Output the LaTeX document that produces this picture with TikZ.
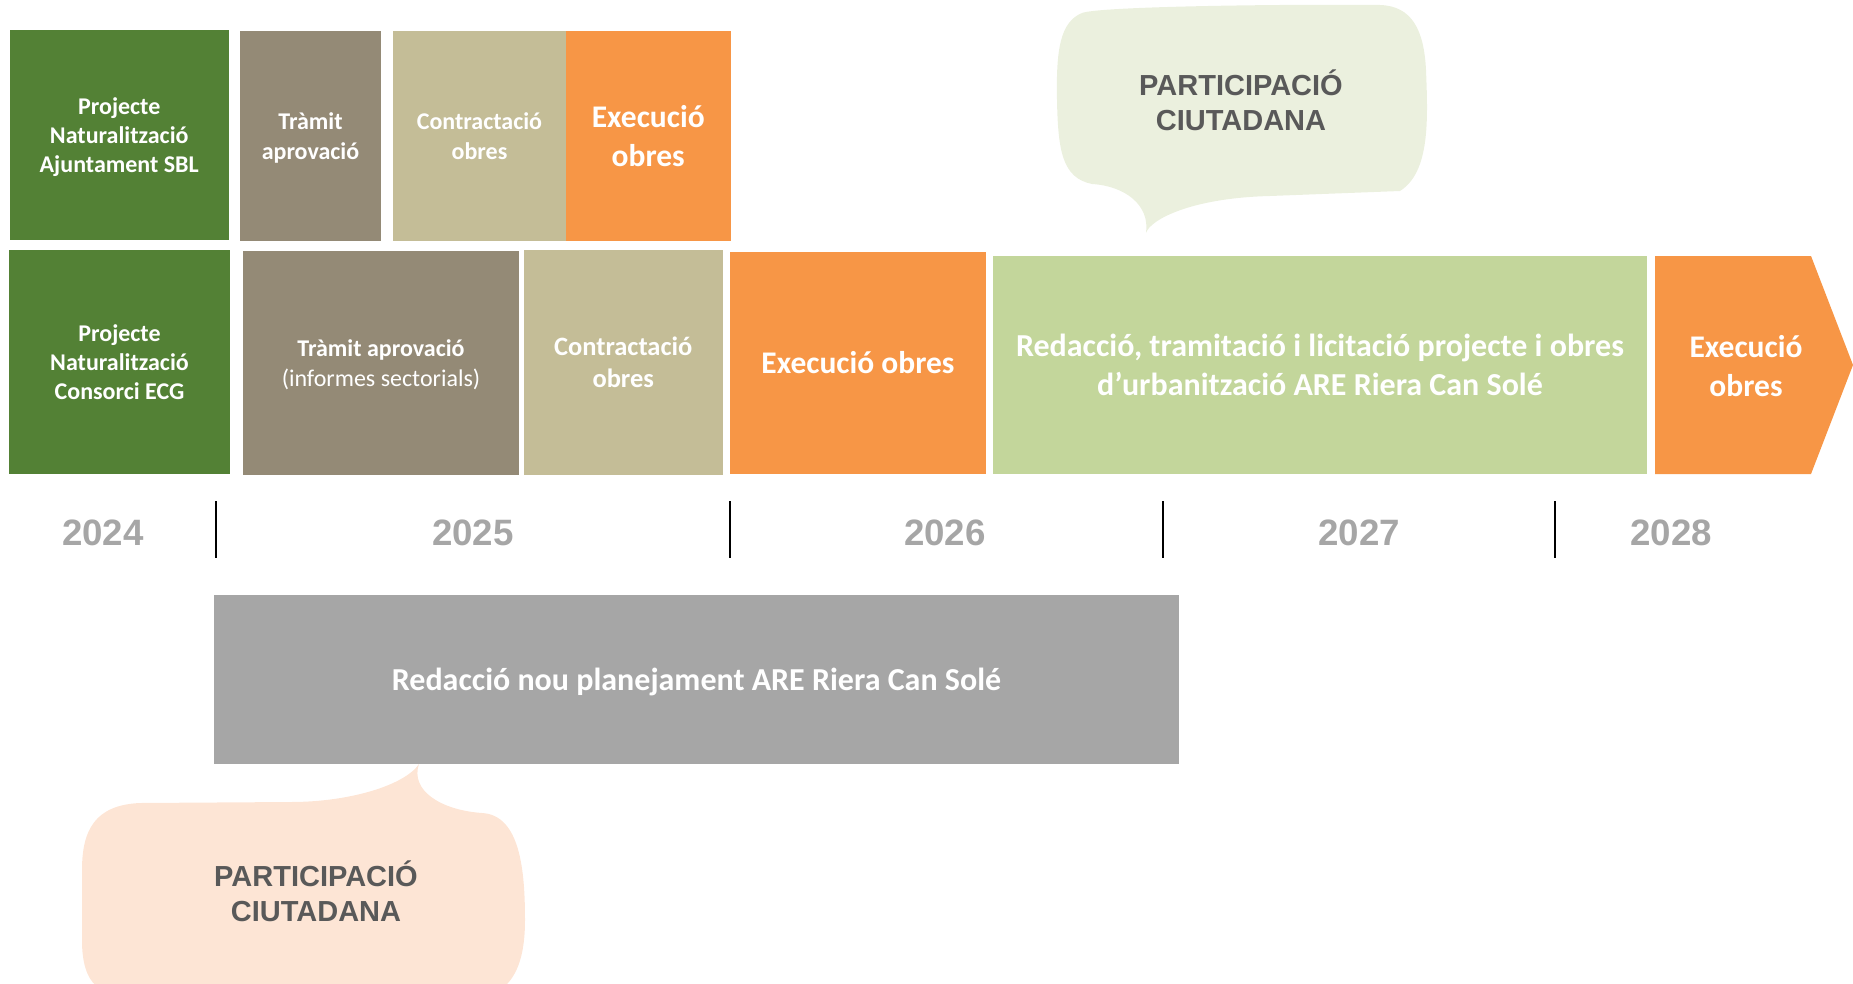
\documentclass[tikz,border=0pt]{standalone}
\usepackage{fontspec}
\setmainfont{Carlito}
\newfontfamily\arialfont{Liberation Sans}
\definecolor{cGreen}{HTML}{538135}
\definecolor{cTramit}{HTML}{948A76}
\definecolor{cContr}{HTML}{C4BD97}
\definecolor{cOrange}{HTML}{F79646}
\definecolor{cLight}{HTML}{C3D69B}
\definecolor{cGray}{HTML}{A6A6A6}
\definecolor{cBubG}{HTML}{EBF0DE}
\definecolor{cBubP}{HTML}{FDE5D5}
\definecolor{cDark}{HTML}{595959}
\newcommand\fszA{\fontsize{24}{29.3}\selectfont}
\newcommand\fszB{\fontsize{26.5}{32}\selectfont}
\newcommand\fszC{\fontsize{31.5}{38.5}\selectfont}
\newcommand\fszD{\fontsize{32}{39}\selectfont}
\newcommand\fszP{\fontsize{29}{35}\selectfont}
\newcommand\fszY{\fontsize{36.7}{40}\selectfont}
\tikzset{
  blk/.style={rectangle, inner sep=0pt, outer sep=0pt, align=center, text=white, font=\bfseries\fszA},
  bigblk/.style={blk, font=\bfseries\fszC},
  widblk/.style={blk, font=\bfseries\fszD},
  lower/.style={text depth=-4.8pt},
  yearlbl/.style={inner sep=0pt, text=cGray, font=\arialfont\bfseries\fszY},
  partlbl/.style={inner sep=0pt, align=center, text=cDark, font=\arialfont\bfseries\fszP},
  tick/.style={line width=2.4pt, black},
}
\begin{document}
\begin{tikzpicture}[x=1pt, y=-1pt]
\useasboundingbox (0,0) rectangle (1853,983);
% top row
\node[blk, lower, fill=cGreen, minimum width=219.5pt, minimum height=210pt] (g1) at (119.25,135) {Projecte\\Naturalització\\Ajuntament SBL};
\node[blk, lower, fill=cTramit, minimum width=141pt, minimum height=210pt] (t1) at (310.5,136) {Tràmit\\aprovació};
\node[blk, lower, fill=cContr, minimum width=173pt, minimum height=210pt] (c1) at (479.5,136) {Contractació\\obres};
\node[bigblk, lower, fill=cOrange, minimum width=164.5pt, minimum height=210pt] (e1) at (648.25,136) {Execució\\obres};
% second row
\node[blk, fill=cGreen, minimum width=221pt, minimum height=224pt] (g2) at (119.5,362) {Projecte\\Naturalització\\Consorci ECG};
\node[blk, lower, fill=cTramit, minimum width=276pt, minimum height=224pt] (t2) at (381,363) {Tràmit aprovació\\{\mdseries(informes sectorials)}};
\node[blk, font=\bfseries\fszB, fill=cContr, minimum width=198.5pt, minimum height=225pt] (c2) at (623.25,362.5) {Contractació\\obres};
\node[bigblk, fill=cOrange, minimum width=256pt, minimum height=222pt] (e2) at (858,363) {Execució obres};
\node[widblk, fill=cLight, minimum width=654pt, minimum height=218pt] (lg) at (1320,365) {Redacció, tramitació i licitació projecte i obres\\d’urbanització ARE Riera Can Solé};
\fill[cOrange] (1655,256) -- (1811,256) -- (1853,365) -- (1811,474) -- (1655,474) -- cycle;
\node[bigblk] (e3) at (1746,366) {Execució\\obres};
% years
\node[yearlbl] (y24) at (103,533) {2024};
\node[yearlbl] (y25) at (473,533) {2025};
\node[yearlbl] (y26) at (945,533) {2026};
\node[yearlbl] (y27) at (1359,533) {2027};
\node[yearlbl] (y28) at (1671,533) {2028};
\coordinate (k1a) at (216,501); \coordinate (k1b) at (216,558);
\coordinate (k2a) at (730,501); \coordinate (k2b) at (730,558);
\coordinate (k3a) at (1163,501); \coordinate (k3b) at (1163,558);
\coordinate (k4a) at (1555,501); \coordinate (k4b) at (1555,558);
\draw[tick] (k1a) -- (k1b);
\draw[tick] (k2a) -- (k2b);
\draw[tick] (k3a) -- (k3b);
\draw[tick] (k4a) -- (k4b);
% gray bar
\node[widblk, lower, fill=cGray, minimum width=965pt, minimum height=169pt] (gb) at (696.5,679.5) {Redacció nou planejament ARE Riera Can Solé};
% green bubble
\fill[cBubG] (1092,184) .. controls (1062,178) and (1058,150) .. (1057,100)
  .. controls (1056,50) and (1060,22) .. (1082,13)
  .. controls (1100,6) and (1300,4) .. (1380,5)
  .. controls (1412,6) and (1424,30) .. (1426,70)
  .. controls (1428,120) and (1430,172) .. (1400,191)
  -- (1270,196) .. controls (1190,198) and (1150,220) .. (1146,233)
  .. controls (1150,205) and (1125,186) .. (1092,184) -- cycle;
\node[partlbl] (pg) at (1241,100) {PARTICIPACIÓ\\CIUTADANA};
% peach bubble
\begin{scope}
\clip (0,0) rectangle (1853,983);
\fill[cBubP] (291,802) -- (140,803) .. controls (95,805) and (82,830) .. (82,870)
  -- (82,940) .. controls (82,985) and (100,998) .. (140,998) -- (470,998)
  .. controls (515,998) and (525,960) .. (525,920)
  .. controls (525,870) and (520,815) .. (482,813)
  .. controls (440,810) and (410,790) .. (419,764)
  .. controls (405,785) and (350,802) .. (291,802) -- cycle;
\end{scope}
\node[partlbl] (pp) at (316,891) {PARTICIPACIÓ\\CIUTADANA};
\end{tikzpicture}
\end{document}
